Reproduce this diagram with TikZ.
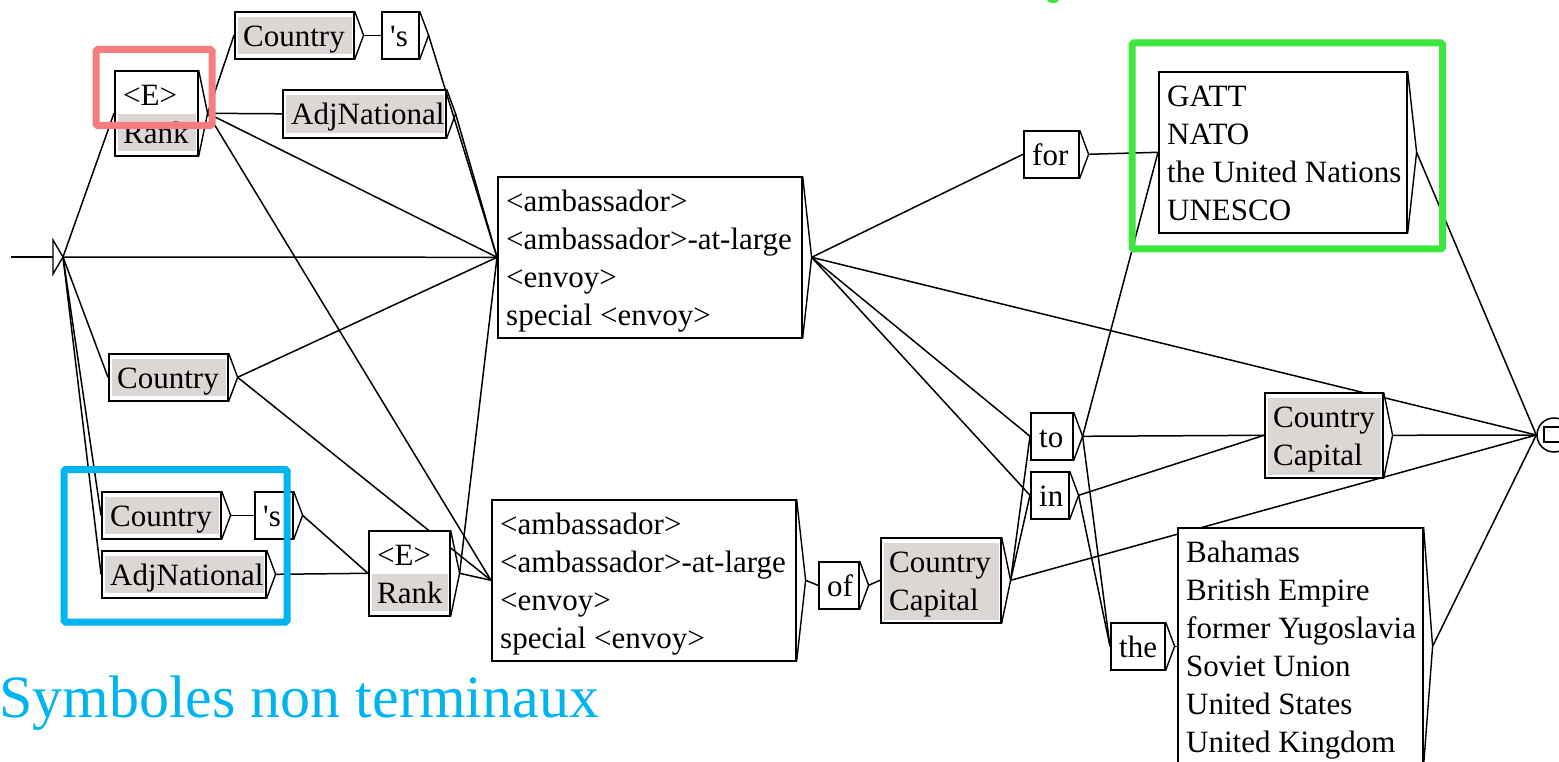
\documentclass[tikz,border=0pt]{standalone}
\usepackage{fontspec}
\setmainfont{Liberation Serif}
\usetikzlibrary{calc}
\definecolor{subgray}{RGB}{220,214,213}
\definecolor{hlred}{RGB}{245,125,125}
\definecolor{hlblue}{RGB}{0,180,240}
\definecolor{hlgreen}{RGB}{60,230,60}
\pgfdeclarelayer{bg}
\pgfdeclarelayer{edges}
\pgfsetlayers{bg,edges,main}
\tikzset{
  frame/.style={draw, fill=white, anchor=north west, inner sep=0pt, line width=1.6pt},
  txt/.style={anchor=north west, inner sep=0pt, align=left, font=\fontsize{31}{38}\selectfont},
  tri/.style={line width=1.4pt, line join=miter},
  subfill/.style={fill=subgray},
  conn/.style={line width=1.5pt},
  hilite/.style={line width=7pt, rounded corners=1.5pt},
}
% box of a graph: name, left, top, width, height, shading code, text
\newcommand\ubox[7]{%
  \node[frame, minimum width=#4pt, minimum height=#5pt] (#1) at (#2,#3) {};
  \def\curbox{#1}#6%
  \node[txt] (#1-x) at ([xshift=9pt,yshift=-8.4pt]#1.north west) {\strut#7};
  \coordinate (#1-t) at ([xshift=9pt]#1.east);
  \draw[tri] (#1.north east) -- (#1-t) -- (#1.south east);
}
% grey band behind the lines that call a sub-graph
\newcommand\subbar[2]{\fill[subfill] ([xshift=4pt,yshift=-#1pt]\curbox.north west) rectangle ([xshift=-3pt,yshift=-#2pt]\curbox.north east);}
\begin{document}
\begin{tikzpicture}[x=1pt,y=-1pt]
\useasboundingbox (0,0) rectangle (1559,762);
\begin{pgfonlayer}{bg}
  \fill[white] (0,0) rectangle (1559,762);
\end{pgfonlayer}

% initial state
\coordinate (in0) at (11,257);
\coordinate (init) at (63,257);
\draw[tri] (53,240) -- (init) -- (53,274) -- cycle;

% boxes
\ubox{E1}{114}{70}{83}{85}{\subbar{44}{81}}{<E>\\Rank}
\ubox{C1}{234}{11}{119}{47}{\subbar{6}{43}}{Country}
\ubox{S1}{381}{11}{37}{47}{}{\textquotesingle s}
\ubox{A1}{282}{89}{163}{48}{\subbar{6}{44}}{AdjNational}
\ubox{AMB1}{497}{176}{304}{161}{}{<ambassador>\\<ambassador>-at-large\\<envoy>\\special <envoy>}
\ubox{C2}{108}{353}{119}{47}{\subbar{6}{43}}{Country}
\ubox{C3}{101}{491}{119}{47}{\subbar{6}{43}}{Country}
\ubox{S2}{254}{491}{38}{47}{}{\textquotesingle s}
\ubox{A2}{101}{550}{164}{47}{\subbar{6}{43}}{AdjNational}
\ubox{E2}{368}{530}{81}{85}{\subbar{44}{81}}{<E>\\Rank}
\ubox{AMB2}{491}{499}{304}{161}{}{<ambassador>\\<ambassador>-at-large\\<envoy>\\special <envoy>}
\ubox{OF}{818}{561}{40}{47}{}{of}
\ubox{CC1}{880}{537}{120}{85}{\subbar{6}{83}}{Country\\Capital}
\ubox{FOR}{1023}{130}{55}{47}{}{for}
\ubox{GATT}{1158}{71}{248}{161}{}{GATT\\NATO\\the United Nations\\UNESCO}
\ubox{TO}{1030}{412}{42}{47}{}{to}
\ubox{IN}{1030}{471}{38}{47}{}{in}
\ubox{THE}{1110}{622}{54}{47}{}{the}
\ubox{CC2}{1264}{392}{118}{85}{\subbar{6}{83}}{Country\\Capital}
\ubox{BAH}{1177}{527}{245}{237}{}{Bahamas\\British Empire\\former Yugoslavia\\Soviet Union\\United States\\United Kingdom}

% final state
\node[circle, draw, fill=white, line width=1.5pt, minimum size=34pt, inner sep=0pt] (fin) at (1554,435) {};
\draw[line width=1.5pt] ([xshift=-10pt,yshift=8pt]fin.center) rectangle ([xshift=18pt,yshift=-7pt]fin.center);

% transitions
\begin{pgfonlayer}{edges}
  \draw[conn] (in0) -- (53,257);
  \foreach \b in {E1,AMB1,C2,C3,A2} \draw[conn] (init) -- (\b.west);
  \foreach \b in {C1,A1,AMB1,AMB2} \draw[conn] (E1-t) -- (\b.west);
  \draw[conn] (C1-t) -- (S1.west);
  \draw[conn] (S1-t) -- (AMB1.west);
  \draw[conn] (A1-t) -- (AMB1.west);
  \foreach \b in {AMB1,AMB2} \draw[conn] (C2-t) -- (\b.west);
  \draw[conn] (C3-t) -- (S2.west);
  \draw[conn] (S2-t) -- (E2.west);
  \draw[conn] (A2-t) -- (E2.west);
  \foreach \b in {AMB1,AMB2} \draw[conn] (E2-t) -- (\b.west);
  \foreach \b in {FOR,TO,IN,fin} \draw[conn] (AMB1-t) -- (\b.west);
  \draw[conn] (AMB2-t) -- (OF.west);
  \draw[conn] (OF-t) -- (CC1.west);
  \foreach \b in {TO,IN,fin} \draw[conn] (CC1-t) -- (\b.west);
  \draw[conn] (FOR-t) -- (GATT.west);
  \foreach \b in {GATT,CC2,THE} \draw[conn] (TO-t) -- (\b.west);
  \foreach \b in {CC2,THE} \draw[conn] (IN-t) -- (\b.west);
  \draw[conn] (THE-t) -- (BAH.west);
  \foreach \b in {GATT,CC2,BAH} \draw[conn] (\b-t) -- (fin.west);
\end{pgfonlayer}

% highlighted regions
\draw[hilite, hlred] (96,49.5) rectangle (212,125.5);
\draw[hilite, hlblue] (64,469.5) rectangle (287,622);
\draw[hilite, hlgreen] (1132,43) rectangle (1442.5,249);
\fill[hlgreen] (1053,0) ellipse (6pt and 3pt);

\node[anchor=base west, inner sep=0pt, text=hlblue, font=\fontsize{60}{72}\selectfont] (caption) at (-1,717) {Symboles non terminaux};
\end{tikzpicture}
\end{document}
